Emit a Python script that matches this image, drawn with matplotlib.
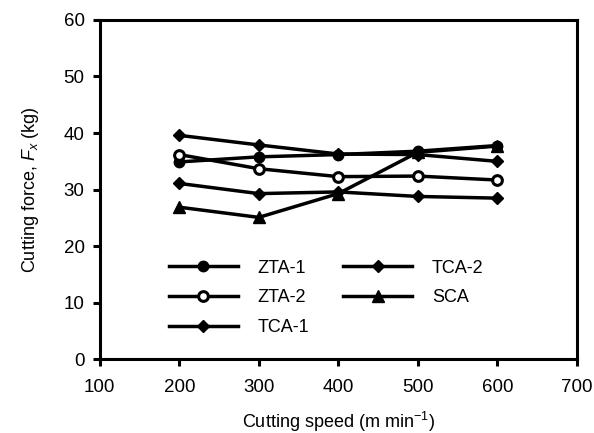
import matplotlib
matplotlib.use('Agg')
from matplotlib import pyplot as plt

plt.rcParams['font.family'] = ['Liberation Sans', 'DejaVu Sans']
plt.rcParams['mathtext.fontset'] = 'custom'
plt.rcParams['mathtext.it'] = 'Liberation Sans:italic'
plt.rcParams['mathtext.rm'] = 'Liberation Sans'

speed = [200, 300, 400, 500, 600]
zta1 = [34.9, 35.8, 36.2, 36.8, 37.8]
zta2 = [36.2, 33.7, 32.3, 32.4, 31.7]
tca1 = [39.6, 37.9, 36.3, 36.2, 35.0]
tca2 = [31.1, 29.3, 29.6, 28.8, 28.5]
sca = [26.9, 25.1, 29.3, 36.6, 37.7]

fig = plt.figure(figsize=(5.94, 4.33), dpi=100)
ax = fig.add_axes([0.168, 0.170, 0.803, 0.784])

lw = 2.5
ax.plot(speed, zta1, color='k', lw=lw, marker='o', ms=7.5, label='ZTA-1')
ax.plot(speed, zta2, color='k', lw=lw, marker='o', ms=7, mfc='white', mew=2.2, label='ZTA-2')
ax.plot(speed, tca1, color='k', lw=lw, marker='D', ms=6.5, label='TCA-1')
ax.plot(speed, tca2, color='k', lw=lw, marker='D', ms=6.5, label='TCA-2')
ax.plot(speed, sca, color='k', lw=lw, marker='^', ms=8, label='SCA')

ax.set_xlim(100, 700)
ax.set_ylim(0, 60)
ax.set_xticks(range(100, 701, 100))
ax.set_yticks(range(0, 61, 10))
ax.tick_params(axis='both', direction='out', length=5, width=2.2, labelsize=13.5,
               top=False, right=False)
ax.tick_params(axis='x', pad=9)
ax.tick_params(axis='y', pad=6)
for s in ax.spines.values():
    s.set_linewidth(2.2)

ax.set_xlabel('Cutting speed (m min$^{-1}$)', fontsize=13, labelpad=10)
ax.set_ylabel('Cutting force, $F_x$ (kg)', fontsize=13, labelpad=16)

ax.legend(loc='upper left', bbox_to_anchor=(0.13, 0.315), ncol=2, frameon=False,
          fontsize=13, handlelength=3.8, labelspacing=0.7, columnspacing=1.9,
          handletextpad=1.1, borderaxespad=0)

fig.savefig('out.png', dpi=100)
